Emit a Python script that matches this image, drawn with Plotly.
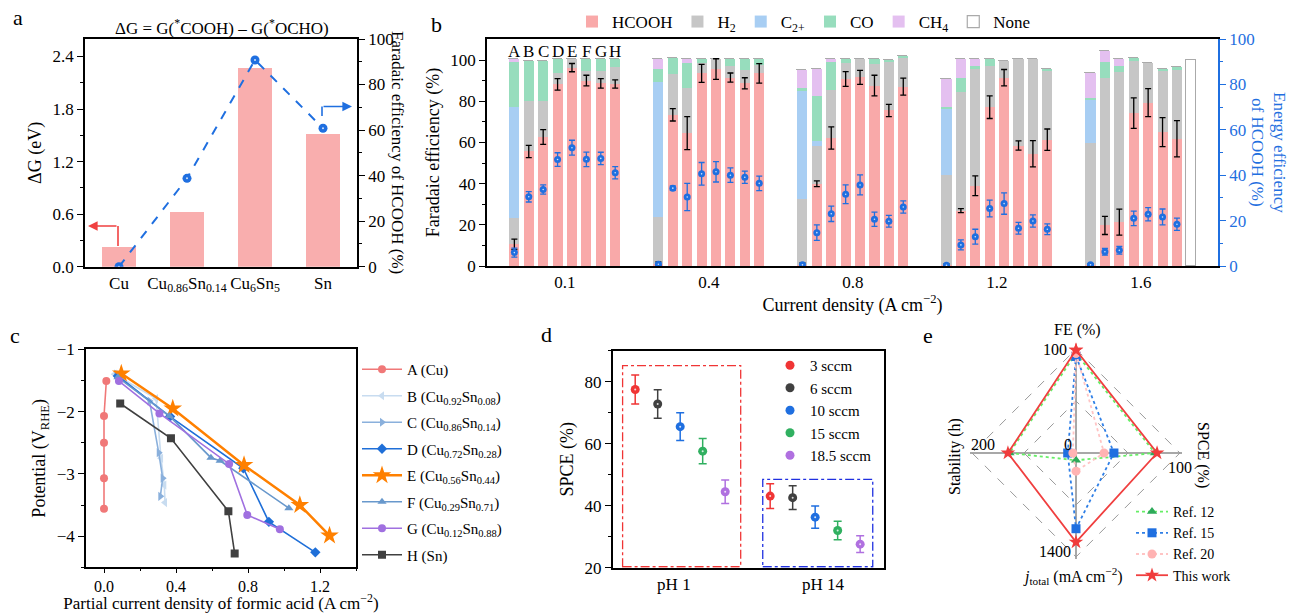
import plotly.graph_objects as go

W, H = 1290, 613
def PX(x): return x / W
def PY(y): return 1 - y / H

SERIF = "Liberation Serif, Times New Roman, serif"
BLUE = "#1F6FE0"

# ---------------- Panel a data ----------------
a_categories = ["Cu", "Cu<sub>0.86</sub>Sn<sub>0.14</sub>", "Cu<sub>6</sub>Sn<sub>5</sub>", "Sn"]
a_dG = [0.23, 0.63, 2.27, 1.52]
a_FE = [0.0, 38.8, 90.8, 60.8]

# ---------------- Panel b data ----------------
b_groups = ["0.1", "0.4", "0.8", "1.2", "1.6"]
b_letters = ["A", "B", "C", "D", "E", "F", "G", "H"]
b_HCOOH = [
    [10.5, 55.6, 62.6, 88.2, 96.3, 90.0, 88.7, 88.4],
    [1.0, 73.4, 64.5, 93.5, 95.6, 91.5, 88.7, 93.5],
    [0.5, 39.9, 62.1, 90.8, 91.6, 87.6, 75.5, 87.1],
    [0.5, 26.9, 39.0, 77.1, 91.4, 58.5, 54.5, 61.3],
    [0.5, 19.7, 21.3, 74.2, 79.3, 65.0, 61.8, None],
]
b_HCOOH_err = [
    [2.5, 3.0, 3.6, 2.8, 2.0, 2.6, 2.3, 2.0],
    [1.0, 3.0, 8.0, 4.4, 5.0, 2.2, 2.7, 4.7],
    [1.0, 1.4, 5.4, 3.6, 3.4, 5.0, 3.0, 4.1],
    [0.5, 1.0, 4.8, 5.5, 4.0, 2.2, 6.4, 5.2],
    [0.5, 4.4, 6.3, 7.4, 6.8, 7.0, 8.8, None],
]
b_H2 = [
    [12.9, 24.6, 17.6, 5.3, 4.3, 4.7, 6.1, 8.4],
    [22.7, 19.6, 21.8, 4.9, 4.9, 5.6, 6.5, 4.1],
    [31.8, 18.5, 23.4, 7.6, 8.8, 10.4, 23.7, 13.7],
    [43.5, 57.6, 56.8, 20.0, 8.3, 42.0, 46.0, 33.5],
    [59.2, 71.7, 72.7, 25.5, 19.1, 29.8, 33.4, None],
]
b_C2 = [
    [53.6, 0, 0, 0, 0, 0, 0, 0],
    [65.8, 0, 0, 0, 0, 0, 0, 0],
    [52.8, 2.1, 0, 0, 0, 0, 0, 0],
    [32.4, 0, 0, 0, 0, 0, 0, 0],
    [20.7, 0, 0, 0, 0, 0, 0, None],
]
b_CO = [
    [22.2, 19.5, 19.5, 7.0, 0, 5.6, 5.5, 3.5],
    [6.1, 7.8, 12.4, 2.1, 0, 3.4, 5.3, 2.9],
    [1.2, 21.8, 13.4, 1.9, 0, 2.3, 0.8, 1.3],
    [1.0, 6.9, 1.5, 3.2, 0, 0, 0, 0.8],
    [1.1, 7.5, 3.1, 1.1, 0, 0.8, 1.3, None],
]
b_CH4 = [
    [1.1, 0, 0, 0, 0, 0, 0, 0],
    [4.7, 0, 1.8, 0, 0, 0, 0, 0],
    [9.0, 13.2, 1.4, 0, 0, 0, 0, 0],
    [13.2, 9.1, 3.2, 0, 0, 0, 0, 0],
    [12.1, 5.6, 3.2, 0, 0, 0, 0, None],
]
b_None = [
    [0, 0, 0, 0, 0, 0, 0, 0],
    [0, 0, 0, 0, 0, 0, 0, 0],
    [0, 0, 0, 0, 0, 0, 0, 0],
    [0, 0, 0, 0, 0, 0, 0, 0],
    [0, 0, 0, 0, 0, 0, 0, 100],
]
b_EE = [
    [5.9, 30.5, 33.7, 46.9, 52.1, 47.0, 47.4, 41.1],
    [0.8, 34.3, 30.4, 40.6, 41.5, 40.0, 39.1, 36.4],
    [0.5, 14.7, 23.0, 31.6, 35.7, 20.6, 19.7, 26.0],
    [0.3, 9.3, 12.9, 25.3, 27.5, 16.6, 19.8, 16.2],
    [0.5, 6.3, 6.9, 21.0, 22.8, 21.6, 18.4, None],
]
b_EE_err = [
    [2.0, 2.3, 2.0, 3.0, 3.3, 3.2, 2.7, 2.7],
    [0.5, 1.0, 6.0, 5.0, 4.5, 3.2, 2.7, 3.2],
    [0.5, 3.4, 3.4, 4.1, 4.4, 3.1, 2.6, 2.7],
    [0.3, 2.2, 3.3, 3.7, 4.7, 2.6, 2.7, 2.4],
    [0.3, 1.5, 1.7, 3.2, 2.9, 3.5, 2.7, None],
]

# ---------------- Panel c data ----------------
c_labels = ["A (Cu)", "B (Cu<sub>0.92</sub>Sn<sub>0.08</sub>)", "C (Cu<sub>0.86</sub>Sn<sub>0.14</sub>)",
            "D (Cu<sub>0.72</sub>Sn<sub>0.28</sub>)", "E (Cu<sub>0.56</sub>Sn<sub>0.44</sub>)",
            "F (Cu<sub>0.29</sub>Sn<sub>0.71</sub>)", "G (Cu<sub>0.12</sub>Sn<sub>0.88</sub>)", "H (Sn)"]
c_x = [
    [0.013, 0.0, 0.0, 0.0, 0.0],
    [0.059, 0.289, 0.317, 0.335, 0.339],
    [0.068, 0.253, 0.304, 0.326, 0.313],
    [0.077, 0.367, 0.774, 0.916, 1.174],
    [0.096, 0.382, 0.778, 1.088, 1.253],
    [0.077, 0.363, 0.594, 0.645, 1.027],
    [0.083, 0.308, 0.695, 0.796, 0.977],
    [0.090, 0.372, 0.691, 0.726],
]
c_y = [
    [-1.51, -2.07, -2.50, -3.07, -3.56],
    [-1.40, -1.79, -2.75, -3.18, -3.46],
    [-1.40, -1.83, -2.66, -3.07, -3.36],
    [-1.43, -2.08, -2.91, -3.77, -4.26],
    [-1.39, -1.95, -2.86, -3.50, -3.99],
    [-1.45, -2.07, -2.74, -2.79, -3.55],
    [-1.51, -2.03, -2.84, -3.66, -3.89],
    [-1.87, -2.43, -3.60, -4.28],
]
c_colors = ["#F07878", "#C8DCF0", "#8AB0DC", "#1F6FD8", "#FF8000", "#6898CC", "#A070E0", "#404040"]
c_symbols = ["circle", "triangle-left", "triangle-right", "diamond", "star", "triangle-up", "circle", "square"]

# ---------------- Panel d data ----------------
d_groups = ["pH 1", "pH 14"]
d_flows = ["3 sccm", "6 sccm", "10 sccm", "15 sccm", "18.5 sccm"]
d_spce = [[77.5, 72.8, 65.5, 57.6, 44.5], [43.1, 42.6, 36.3, 32.0, 27.6]]
d_err = [[4.7, 4.6, 4.5, 4.1, 3.8], [4.0, 3.8, 3.6, 3.0, 2.7]]
d_colors = ["#F03535", "#404040", "#1F6FE0", "#30B060", "#B070E0"]

# ---------------- Panel e data ----------------
e_axes = ["FE", "SPCE", "jtotal", "Stability"]
e_max = [100, 100, 1400, 200]
e_names = ["Ref. 12", "Ref. 15", "Ref. 20", "This work"]
e_values = [
    [96, 76, 98, 128],
    [93, 36.5, 1020, 16],
    [96, 27, 245, 6],
    [99, 78, 1200, 131],
]
e_colors = ["#2EAA5A", "#1F6FE0", "#FFB3B3", "#F03C3C"]
e_line_colors = ["#66EE66", "#2F7FE6", "#FFC4C4", "#F04040"]
e_symbols = ["triangle-up", "square", "circle", "star"]
e_dash = ["dot", "dot", "dot", "solid"]

fig = go.Figure()
HL = dict(size=2, color="rgba(255,255,255,0.8)")

# ---------- Panel a traces ----------
fig.add_trace(go.Bar(x=a_categories, y=a_dG, width=0.49, marker=dict(color="#F9AEAE", line=dict(width=0)),
                     xaxis="x", yaxis="y", showlegend=False))
fig.add_trace(go.Scatter(x=a_categories, y=a_FE, mode="lines+markers",
                         line=dict(color=BLUE, dash="dash", width=2), marker=dict(size=9, color=BLUE),
                         xaxis="x", yaxis="y2", showlegend=False))
fig.add_trace(go.Scatter(x=a_categories, y=a_FE, mode="markers", marker=HL, xaxis="x", yaxis="y2",
                         showlegend=False, hoverinfo="skip"))

# ---------- Panel b traces ----------
bx = [g + (i - 3.5) * 0.1 for g in range(len(b_groups)) for i in range(len(b_letters))]
def flat(v): return [x for row in v for x in row]

species = [("HCOOH", b_HCOOH, "#F9A9A9"), ("H<sub>2</sub>", b_H2, "#C6C6C6"),
           ("C<sub>2+</sub>", b_C2, "#A8CEF3"), ("CO", b_CO, "#97DDBD"), ("CH<sub>4</sub>", b_CH4, "#E4C0F0")]
for name, vals, col in species:
    fig.add_trace(go.Bar(x=bx, y=flat(vals), width=0.07, name=name, marker=dict(color=col, line=dict(width=0)),
                         xaxis="x2", yaxis="y3", legend="legend"))
fig.add_trace(go.Bar(x=bx, y=flat(b_None), width=0.07, name="None",
                     marker=dict(color="white", line=dict(color="#AAAAAA", width=1.2)),
                     xaxis="x2", yaxis="y3", legend="legend"))
fig.add_trace(go.Scatter(x=bx, y=flat(b_HCOOH), mode="markers", marker=dict(size=1, color="rgba(0,0,0,0)"),
                         error_y=dict(type="data", array=flat(b_HCOOH_err), color="black", thickness=1.3, width=3),
                         xaxis="x2", yaxis="y3", showlegend=False))
fig.add_trace(go.Scatter(x=bx, y=flat(b_EE), mode="markers", marker=dict(size=7, color=BLUE),
                         error_y=dict(type="data", array=flat(b_EE_err), color=BLUE, thickness=1.3, width=3),
                         xaxis="x2", yaxis="y4", showlegend=False))
fig.add_trace(go.Scatter(x=bx, y=flat(b_EE), mode="markers", marker=dict(size=1.6, color="rgba(255,255,255,0.8)"),
                         xaxis="x2", yaxis="y4", showlegend=False, hoverinfo="skip"))

# ---------- Panel c traces ----------
for k, lab in enumerate(c_labels):
    fig.add_trace(go.Scatter(x=c_x[k], y=c_y[k], mode="lines+markers", name=lab,
                             line=dict(color=c_colors[k], width=2.5 if k == 4 else 1.6),
                             marker=dict(symbol=c_symbols[k], color=c_colors[k], size=14 if k == 4 else 8),
                             xaxis="x3", yaxis="y5", legend="legend2", legendgroup="c%d" % k))

# ---------- Panel d traces ----------
for k, flow in enumerate(d_flows):
    xs = [g * 6 + k + 1 for g in range(len(d_groups))]
    ys = [d_spce[g][k] for g in range(len(d_groups))]
    fig.add_trace(go.Scatter(x=xs, y=ys, mode="markers", name=flow,
                             marker=dict(size=9, color=d_colors[k]),
                             error_y=dict(type="data", array=[d_err[g][k] for g in range(len(d_groups))],
                                          color=d_colors[k], thickness=1.5, width=4),
                             xaxis="x4", yaxis="y6", legend="legend3"))
    fig.add_trace(go.Scatter(x=xs, y=ys, mode="markers", marker=HL, xaxis="x4", yaxis="y6",
                             showlegend=False, hoverinfo="skip"))

# ---------- Panel e traces ----------
for k, nm in enumerate(e_names):
    r = [v / m for v, m in zip(e_values[k], e_max)]
    fig.add_trace(go.Scatterpolar(r=r + [r[0]], theta=e_axes + [e_axes[0]], mode="lines+markers", name=nm,
                                  line=dict(color=e_line_colors[k], dash=e_dash[k], width=1.8),
                                  marker=dict(symbol=e_symbols[k], color=e_colors[k], size=11 if k == 3 else 9),
                                  subplot="polar", legend="legend4"))

# ---------- layout ----------
tf = dict(family=SERIF, size=17, color="black")
def ax(**kw):
    d = dict(showline=True, linecolor="black", linewidth=1.5, ticks="outside", ticklen=6, tickwidth=1.3,
             tickcolor="black", tickfont=tf, showgrid=False, zeroline=False,
             title_font=dict(family=SERIF, size=18, color="black"))
    d.update(kw)
    return d

layout = dict(
    width=W, height=H, margin=dict(l=0, r=0, t=0, b=0, autoexpand=False), paper_bgcolor="white",
    plot_bgcolor="white", barmode="stack", bargap=0, font=dict(family=SERIF, size=17, color="black"),
    xaxis=ax(domain=[PX(85), PX(357)], anchor="y", mirror=True, ticks="", type="category", range=[-0.5, 3.5]),
    yaxis=ax(domain=[PY(266.7), PY(39)], anchor="x", range=[0, 2.6], tick0=0, dtick=0.6, tickformat=".1f",
             minor=dict(ticks="outside", ticklen=3, dtick=0.3, tickcolor="black"),
             title=dict(text="ΔG (eV)", standoff=6)),
    yaxis2=ax(overlaying="y", side="right", anchor="x", range=[0, 100], dtick=20,
              minor=dict(ticks="outside", ticklen=3, dtick=10, tickcolor="black")),
    xaxis2=ax(domain=[PX(487), PX(1218)], anchor="y3", mirror=True, ticks="", range=[-0.54, 4.535],
              tickvals=list(range(len(b_groups))), ticktext=b_groups,
              title=dict(text="Current density (A cm<sup>−2</sup>)", standoff=4)),
    yaxis3=ax(domain=[PY(266), PY(39)], anchor="x2", range=[0, 110.2], tickvals=[0, 20, 40, 60, 80, 100],
              minor=dict(ticks="outside", ticklen=3, tickvals=[10, 30, 50, 70, 90], tickcolor="black"),
              title=dict(text="Faradaic efficiency (%)", standoff=6)),
    yaxis4=ax(overlaying="y3", side="right", anchor="x2", range=[0, 100], dtick=20, linecolor=BLUE,
              tickcolor=BLUE, tickfont=dict(family=SERIF, size=17, color=BLUE),
              minor=dict(ticks="outside", ticklen=3, dtick=10, tickcolor=BLUE)),
    xaxis3=ax(domain=[PX(86), PX(356)], anchor="y5", mirror=True, range=[-0.1, 1.4], tick0=0, dtick=0.4,
              ticklen=4, tickfont=dict(family=SERIF, size=16, color="black"),
              tickformat=".1f", minor=dict(ticks="outside", ticklen=2, dtick=0.2, tickcolor="black"),
              title=dict(text="Partial current density of formic acid (A cm<sup>−2</sup>)", standoff=8,
                         font=dict(family=SERIF, size=17, color="black"))),
    yaxis5=ax(domain=[PY(567.3), PY(349.3)], anchor="x3", mirror=True, range=[-4.5, -1], dtick=1,
              minor=dict(ticks="outside", ticklen=3, dtick=0.5, tickcolor="black"),
              title=dict(text="Potential (V<sub>RHE</sub>)", standoff=6)),
    xaxis4=ax(domain=[PX(612.7), PX(884)], anchor="y6", mirror=True, ticks="", range=[0, 12.06],
              tickvals=[2.72, 9.35], ticktext=d_groups),
    yaxis6=ax(domain=[PY(567.7), PY(350.7)], anchor="x4", mirror=True, range=[20, 90], tick0=20, dtick=20,
              minor=dict(ticks="outside", ticklen=3, dtick=10, tickcolor="black"),
              title=dict(text="SPCE (%)", standoff=6)),
    polar=dict(domain=dict(x=[PX(970), PX(1182)], y=[PY(559), PY(347)]), bgcolor="white", gridshape="linear",
               radialaxis=dict(range=[0, 1.02], tickvals=[0.5, 1.0], showticklabels=False, ticks="",
                               showline=False, gridcolor="#9A9A9A", griddash="dash", gridwidth=1),
               angularaxis=dict(type="category", categoryarray=e_axes, rotation=90, direction="clockwise",
                                showticklabels=False, ticks="", showline=False, gridcolor="#A8A8A8", gridwidth=2)),
    legend=dict(orientation="h", traceorder="normal", x=PX(572), y=PY(22), xanchor="left", yanchor="middle",
                font=dict(family=SERIF, size=17), bgcolor="rgba(0,0,0,0)", itemwidth=30),
    legend2=dict(x=PX(357), y=PY(353), xanchor="left", yanchor="top", font=dict(family=SERIF, size=15),
                 bgcolor="rgba(0,0,0,0)", itemwidth=40, tracegroupgap=4),
    legend3=dict(x=PX(770), y=PY(349), xanchor="left", yanchor="top", font=dict(family=SERIF, size=15),
                 bgcolor="rgba(0,0,0,0)", itemwidth=30),
    legend4=dict(x=PX(1131), y=PY(496), xanchor="left", yanchor="top", font=dict(family=SERIF, size=14),
                 bgcolor="rgba(0,0,0,0)", itemwidth=32),
)
fig.update_layout(**layout)

ann = []
def A(text, x, y, size=17, **kw):
    d = dict(text=text, x=PX(x), y=PY(y), xref="paper", yref="paper", showarrow=False,
             xanchor="center", yanchor="middle",
             font=dict(family=SERIF, size=size, color=kw.pop("color", "black")))
    d.update(kw)
    ann.append(d)

A("a", 18, 18, 22)
A("b", 436, 25, 22)
A("c", 15, 335, 22)
A("d", 546, 334, 22)
A("e", 928, 335, 22)
A("ΔG = G(<sup>*</sup>COOH) – G(<sup>*</sup>OCHO)", 222, 27, 17)
A("Faradaic efficiency of HCOOH (%)", 397, 152, 17, textangle=90)
A("Energy efficiency<br>of HCOOH (%)", 1268, 152, 17, textangle=90, color=BLUE)
A("FE (%)", 1077, 330, 16)
A("100", 1055, 349, 16)
A("SPCE (%)", 1203, 455, 16, textangle=90)
A("100", 1180, 467, 16)
A("1400", 1055, 551, 16)
A("<i>j</i><sub>total</sub> (mA cm<sup>−2</sup>)", 1073, 576, 16)
A("Stability (h)", 955, 457, 16, textangle=-90)
A("200", 983, 444, 16)
A("0", 1068, 444, 16)
for i, letter in enumerate(b_letters):
    ann.append(dict(text=letter, x=bx[i], y=104.3, xref="x2", yref="y3", showarrow=False,
                    xanchor="center", yanchor="middle", font=dict(family=SERIF, size=17, color="black")))
# arrows panel a (tail offsets in pixels)
ann.append(dict(x=PX(88), y=PY(226), ax=30, ay=0, xref="paper", yref="paper", axref="pixel", ayref="pixel",
                showarrow=True, arrowhead=2, arrowsize=1.2, arrowwidth=1.6, arrowcolor="#F04040", text=""))
ann.append(dict(x=PX(352), y=PY(106.5), ax=-30, ay=0, xref="paper", yref="paper", axref="pixel", ayref="pixel",
                showarrow=True, arrowhead=2, arrowsize=1.2, arrowwidth=1.6, arrowcolor=BLUE, text=""))
fig.update_layout(annotations=ann)

shapes = [
    dict(type="line", xref="paper", yref="paper", x0=PX(118), x1=PX(118), y0=PY(246), y1=PY(226),
         line=dict(color="#F04040", width=1.6)),
    dict(type="line", xref="paper", yref="paper", x0=PX(322), x1=PX(322), y0=PY(116), y1=PY(106.5),
         line=dict(color=BLUE, width=1.6)),
    dict(type="rect", xref="x4", yref="y6", x0=0.44, x1=5.69, y0=20.3, y1=85.2,
         line=dict(color="#F03535", width=1.3, dash="dashdot")),
    dict(type="rect", xref="x4", yref="y6", x0=6.67, x1=11.56, y0=20.3, y1=48.5,
         line=dict(color="#2030E0", width=1.3, dash="dashdot")),
]
fig.update_layout(shapes=shapes)

fig.write_html("out.html")
